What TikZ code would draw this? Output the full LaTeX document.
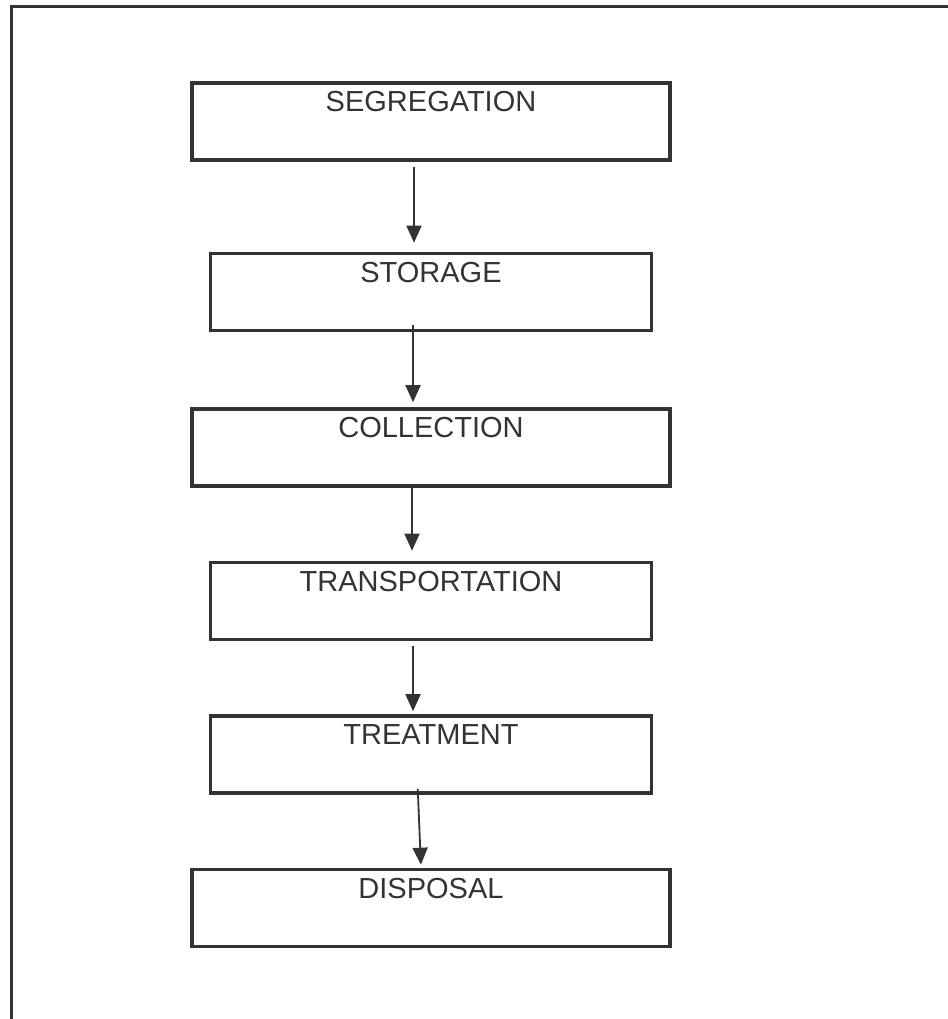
\documentclass[tikz,border=0pt]{standalone}
\usepackage{fontspec}
\setmainfont{Liberation Sans}
\usetikzlibrary{matrix,arrows.meta}

\definecolor{ink}{HTML}{333333}

\begin{document}
\begin{tikzpicture}[x=1pt,y=-1pt,
  >={Triangle[length=17pt,width=15pt]},
  wide/.style={minimum width=478pt},
  narrow/.style={minimum width=441pt}]
  \useasboundingbox (0,0) rectangle (947,1019);
  \draw[ink, line width=3pt] (11,1030) -- (11,7) -- (960,7);
  \matrix (m) [matrix of nodes, anchor=north, inner sep=0pt, row sep=73pt,
    nodes={draw=ink, line width=3.5pt, inner sep=0pt, text=ink,
      font=\fontsize{29}{34}\selectfont, text height=29pt, text depth=48pt}]
    at (431,81)
  {
|[wide]| SEGREGATION \\[17pt]
|[narrow]| STORAGE \\[2pt]
|[wide]| COLLECTION \\
|[narrow]| TRANSPORTATION \\
|[narrow]| TREATMENT \\
|[wide]| DISPOSAL \\
  };
  \path[->, ink, line width=1.8pt]
  ([xshift=-17pt]m-1-1.south) edge [shorten <=5pt, shorten >=9pt] ([xshift=-17pt]m-2-1.north)
  ([xshift=-18pt]m-2-1.south) edge [shorten <=-7pt, shorten >=5pt] ([xshift=-18pt]m-3-1.north)
  ([xshift=-19pt]m-3-1.south) edge [shorten >=10pt] ([xshift=-19pt]m-4-1.north)
  ([xshift=-18pt]m-4-1.south) edge [shorten <=5pt, shorten >=3pt] ([xshift=-18pt]m-5-1.north)
  ([xshift=-13pt]m-5-1.south) edge [shorten <=-6pt, shorten >=3pt] ([xshift=-10pt]m-6-1.north)
;
\end{tikzpicture}
\end{document}
